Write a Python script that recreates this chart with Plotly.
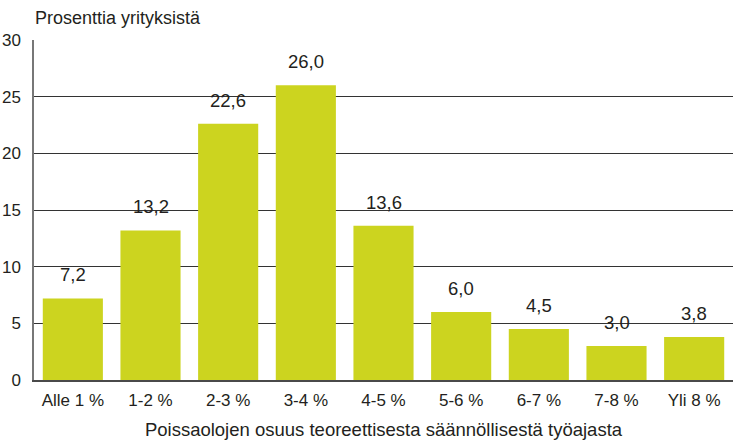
import plotly.graph_objects as go

categories = ["Alle 1 %", "1-2 %", "2-3 %", "3-4 %", "4-5 %", "5-6 %", "6-7 %", "7-8 %", "Yli 8 %"]
values = [7.2, 13.2, 22.6, 26.0, 13.6, 6.0, 4.5, 3.0, 3.8]
y_ticks = [0, 5, 10, 15, 20, 25, 30]

font_family = "Liberation Sans, Arial, Helvetica, sans-serif"
text_color = "#231f20"

fig = go.Figure(go.Bar(
    x=categories, y=values,
    marker=dict(color="#ccd41f", line=dict(width=0)),
    hoverinfo="x+y",
))

for c, v in zip(categories, values):
    fig.add_annotation(
        x=c, y=v, xref="x", yref="y",
        text=f"{v:.1f}".replace(".", ","),
        showarrow=False, yanchor="bottom", yshift=11,
        font=dict(size=18.5, color=text_color),
    )

fig.add_annotation(
    text="Prosenttia yrityksistä", xref="paper", yref="paper",
    x=-1/699, y=1 + 22/340, xanchor="left", yanchor="middle",
    showarrow=False, font=dict(size=18, color=text_color),
)

fig.update_layout(
    width=733, height=441,
    margin=dict(l=34, r=0, t=40, b=61),
    plot_bgcolor="white", paper_bgcolor="white",
    bargap=0.226,
    showlegend=False,
    font=dict(family=font_family, color=text_color),
    xaxis=dict(
        automargin=False,
        showgrid=False, ticks="", tickfont=dict(size=17), ticklabelstandoff=4,
        showline=True, linecolor="#4a4a4a", linewidth=2,
        title=dict(text="Poissaolojen osuus teoreettisesta säännöllisestä työajasta",
                   font=dict(size=18.5), standoff=14),
    ),
    yaxis=dict(
        automargin=False,
        range=[0, 30], tickvals=y_ticks, tickfont=dict(size=17),
        showgrid=True, gridcolor="#333333", gridwidth=1,
        showline=True, linecolor="#777777", linewidth=1.5,
        zeroline=False, ticks="", ticklabelstandoff=8,
    ),
)

fig.write_html("out.html", config={"displayModeBar": False},
               post_script="document.body.style.margin='0';")
